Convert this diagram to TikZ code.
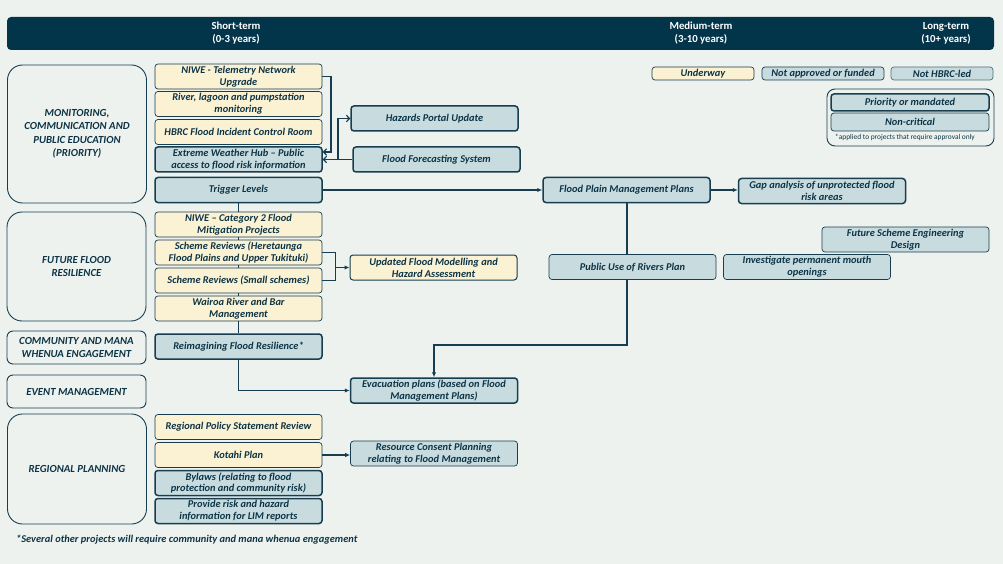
\documentclass[tikz,border=0pt]{standalone}
\usepackage{fontspec}
\setmainfont{Carlito}
\usetikzlibrary{arrows.meta}
\definecolor{bg}{HTML}{EEF2EE}
\definecolor{navy}{HTML}{03354A}
\definecolor{ink}{HTML}{0C3446}
\definecolor{edge}{HTML}{163E50}
\definecolor{cream}{HTML}{FBF1D3}
\definecolor{pale}{HTML}{C8DCE0}
\begin{document}
\begin{tikzpicture}[x=1pt,y=-1pt,
    every node/.style={font=\bfseries\itshape\fontsize{10.4}{11.8}\selectfont,
        text=ink, align=center, inner sep=1pt},
    job/.style={draw=edge, rounded corners=3pt, minimum width=167pt,
        minimum height=25pt, line width=0.7pt},
    ongoing/.style={job, fill=cream},
    pending/.style={job, fill=pale},
    priority/.style={pending, line width=1.5pt},
    theme/.style={draw=edge, line width=0.9pt, fill=bg, minimum width=139pt,
        rounded corners=#1, font=\bfseries\itshape\fontsize{10.8}{13.5}\selectfont},
    theme/.default=15pt,
    heading/.style={text=white, font=\bfseries\fontsize{10.8}{13}\selectfont},
    link/.style={draw=edge, line width=1.2pt},
    arr/.style={link, -{Latex[length=5pt,width=4.5pt]}},
    openarr/.style={link, -{Straight Barb[length=3pt,width=6.5pt]}},
]
\fill[bg] (0,0) rectangle (1003,564);
% timeline header
\fill[navy, rounded corners=4pt] (7,17) rectangle (994,50);
\node[heading] (short) at (236,33.5) {Short-term\\(0-3 years)};
\node[heading] (medium) at (701,33.5) {Medium-term\\(3-10 years)};
\node[heading] (long) at (946,33.5) {Long-term\\(10+ years)};

% legend
\node[ongoing, minimum width=102pt, minimum height=13pt] (lunder) at (703,73.5) {Underway};
\node[pending, minimum width=122pt, minimum height=13pt] (lnotapp) at (823,73.5) {Not approved or funded};
\node[pending, draw=edge!75, minimum width=102pt, minimum height=13pt] (lnothbrc) at (942,73.5) {Not HBRC-led};
\draw[edge, line width=0.9pt, rounded corners=8pt] (827,89) rectangle (994,146);
\node[priority, minimum width=158pt, minimum height=17pt] (lprio) at (910,102.5) {Priority or mandated};
\node[pending, minimum width=158pt, minimum height=18pt] (lnon) at (910,122) {Non-critical};
\node[font=\fontsize{7.4}{8}\selectfont] (lnote) at (905,138) {*applied to projects that require approval only};

% themes
\node[theme, minimum height=138pt] (gmon) at (77,134)
    {MONITORING,\\COMMUNICATION AND\\PUBLIC EDUCATION\\(PRIORITY)};
\node[theme, minimum height=109pt] (gfut) at (76.5,266.5) {FUTURE FLOOD\\RESILIENCE};
\node[theme=6pt, minimum height=33pt] (gcom) at (76.5,347.5) {COMMUNITY AND MANA\\WHENUA ENGAGEMENT};
\node[theme=6pt, minimum height=33pt] (gevt) at (76.5,391.5) {EVENT MANAGEMENT};
\node[theme, minimum height=110pt] (greg) at (77,469) {REGIONAL PLANNING};

% short-term projects
\node[ongoing] (niwe) at (238.5,76.5) {NIWE - Telemetry Network\\Upgrade};
\node[ongoing] (river) at (238.5,104) {River, lagoon and pumpstation\\monitoring};
\node[ongoing] (hbrc) at (238.5,132) {HBRC Flood Incident Control Room};
\node[priority] (hub) at (238.5,159.5) {Extreme Weather Hub – Public\\access to flood risk information};
\node[priority] (trigger) at (238.5,190) {Trigger Levels};
\node[ongoing] (cattwo) at (238.5,224.5) {NIWE – Category 2 Flood\\Mitigation Projects};
\node[ongoing] (heretaunga) at (238.5,252.5) {Scheme Reviews (Heretaunga\\Flood Plains and Upper Tukituki)};
\node[ongoing] (smallsch) at (238.5,280.5) {Scheme Reviews (Small schemes)};
\node[ongoing] (wairoa) at (238.5,308.5) {Wairoa River and Bar\\Management};
\node[priority] (reimagine) at (238.5,346.5) {Reimagining Flood Resilience*};
\node[ongoing] (rps) at (238.5,427) {Regional Policy Statement Review};
\node[ongoing] (kotahi) at (238.5,455) {Kotahi Plan};
\node[priority] (bylaws) at (238.5,483) {Bylaws (relating to flood\\protection and community risk)};
\node[priority] (lim) at (238.5,511) {Provide risk and hazard\\information for LIM reports};

% follow-on projects
\node[priority] (portal) at (434.5,118.5) {Hazards Portal Update};
\node[priority] (forecast) at (436.5,159.5) {Flood Forecasting System};
\node[ongoing, line width=1pt] (modelling) at (433.5,267.5) {Updated Flood Modelling and\\Hazard Assessment};
\node[priority] (evac) at (434,390.5) {Evacuation plans (based on Flood\\Management Plans)};
\node[pending] (consent) at (434,453.5) {Resource Consent Planning\\relating to Flood Management};
\node[priority] (fpmp) at (626.5,190) {Flood Plain Management Plans};
\node[priority] (gap) at (822,191) {Gap analysis of unprotected flood\\risk areas};
\node[pending] (pubuse) at (632.5,267) {Public Use of Rivers Plan};
\node[pending] (mouth) at (807,267) {Investigate permanent mouth\\openings};
\node[pending] (future) at (905.5,239.5) {Future Scheme Engineering\\Design};

\node[anchor=west] (foot) at (15,540)
    {*Several other projects will require community and mana whenua engagement};

% connectors
\coordinate (jhub) at (331,152);
\coordinate (jfork) at (338,159.5);
\coordinate (jmod) at (335.5,267.5);
\coordinate (jevac) at (434,345);
\draw[openarr] (niwe.east) -| (jhub) -- (jhub -| hub.east);
\draw[openarr] (forecast.west) -- (hub.east);
\draw[openarr] (jfork) |- (portal.west);
\draw[arr] (trigger.east) -- (fpmp.west);
\draw[arr] (fpmp.east) -- (fpmp.east -| gap.west);
\draw[link] (fpmp.south -| 627,0) -- (pubuse.north -| 627,0);
\draw[arr] (pubuse.south -| 627,0) |- (jevac) -- (evac.north);
\foreach \a/\b in {trigger/cattwo, cattwo/heretaunga, heretaunga/smallsch,
    smallsch/wairoa, wairoa/reimagine}
    \draw[link] (\a.south) -- (\b.north);
\draw[arr] (reimagine.south) |- (evac.west);
\draw[link] (heretaunga.east) -| (jmod) |- (smallsch.east);
\draw[arr] (jmod) -- (modelling.west);
\draw[arr] (kotahi.east) -- (kotahi.east -| consent.west);
\end{tikzpicture}
\end{document}
